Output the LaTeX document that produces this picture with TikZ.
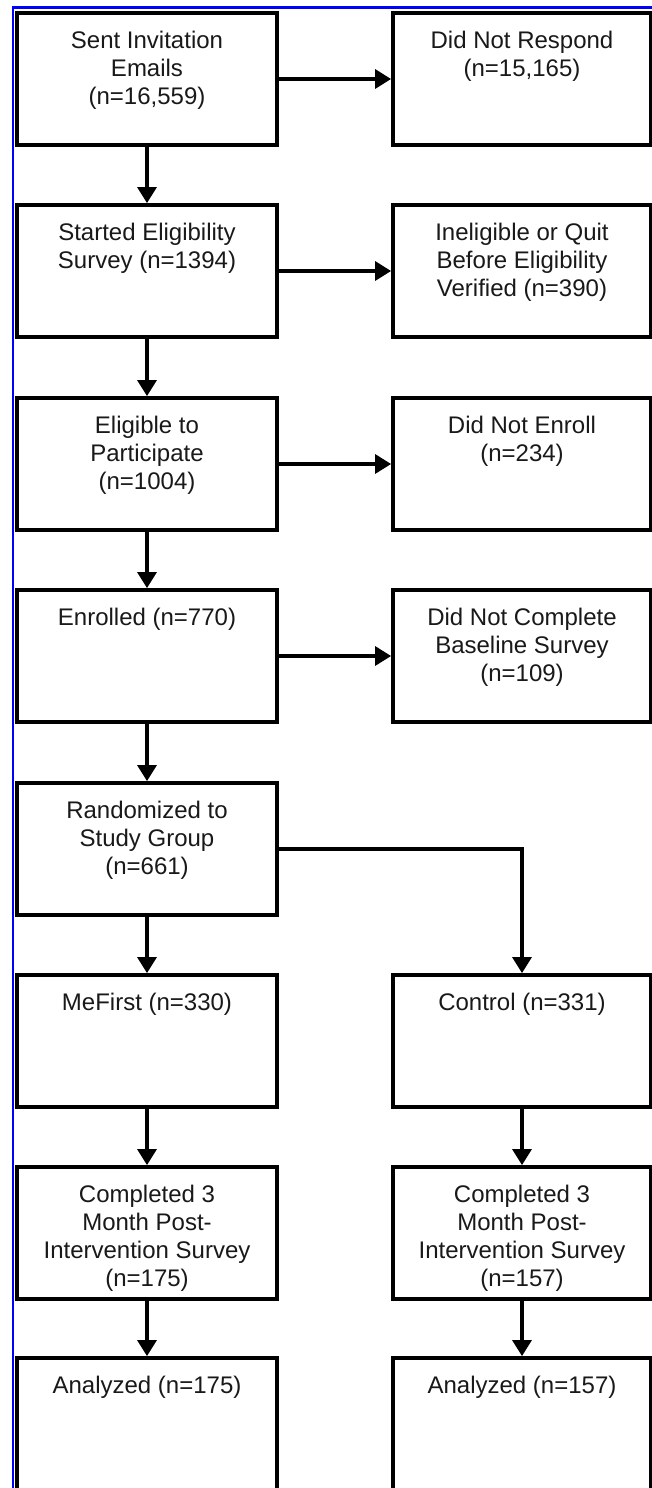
\documentclass[tikz,border=0pt]{standalone}
\usepackage{fontspec}
\setmainfont{Liberation Sans}
\usetikzlibrary{arrows.meta}
\tikzset{
  flowbox/.style={draw=black, line width=3.8pt, inner sep=0pt, minimum height=132pt},
  leftbox/.style={flowbox, minimum width=260pt},
  rightbox/.style={flowbox, minimum width=258pt},
  boxtext/.style={anchor=north, inner sep=0pt, align=center, text=black!90, font={\fontsize{24}{28}\selectfont}},
  conn/.style={line width=3.2pt, -{Triangle[length=16pt,width=19pt]}},
  plain/.style={line width=3.2pt}
}
\newcommand{\boxlabel}[3]{\node[boxtext] (#1) at ([yshift=-17.8pt]#2.north) {\strut #3};}
\begin{document}
\begin{tikzpicture}[x=1pt,y=-1pt]
\useasboundingbox (0,0) rectangle (652,1488);
\clip (0,0) rectangle (652,1488);
\fill[white] (0,0) rectangle (652,1488);
\draw[blue, line width=2.3pt] (13,1490) -- (13,7.5) -- (653,7.5);

% left column
\node[leftbox] (l1) at (147,79) {};
\node[leftbox] (l2) at (147,271) {};
\node[leftbox] (l3) at (147,464) {};
\node[leftbox] (l4) at (147,656) {};
\node[leftbox] (l5) at (147,849) {};
\node[leftbox] (l6) at (147,1041) {};
\node[leftbox] (l7) at (147,1233) {};
\node[leftbox] (l8) at (147,1424) {};
% right column
\node[rightbox] (r1) at (522,79) {};
\node[rightbox] (r2) at (522,271) {};
\node[rightbox] (r3) at (522,464) {};
\node[rightbox] (r4) at (522,656) {};
\node[rightbox] (r6) at (522,1041) {};
\node[rightbox] (r7) at (522,1233) {};
\node[rightbox] (r8) at (522,1424) {};

\boxlabel{tl1}{l1}{Sent Invitation\\Emails\\(n=16,559)}
\boxlabel{tl2}{l2}{Started Eligibility\\Survey (n=1394)}
\boxlabel{tl3}{l3}{Eligible to\\Participate\\(n=1004)}
\boxlabel{tl4}{l4}{Enrolled (n=770)}
\boxlabel{tl5}{l5}{Randomized to\\Study Group\\(n=661)}
\boxlabel{tl6}{l6}{MeFirst (n=330)}
\boxlabel{tl7}{l7}{Completed 3\\Month Post-\\Intervention Survey\\(n=175)}
\boxlabel{tl8}{l8}{Analyzed (n=175)}

\boxlabel{tr1}{r1}{Did Not Respond\\(n=15,165)}
\boxlabel{tr2}{r2}{Ineligible or Quit\\Before Eligibility\\Verified (n=390)}
\boxlabel{tr3}{r3}{Did Not Enroll\\(n=234)}
\boxlabel{tr4}{r4}{Did Not Complete\\Baseline Survey\\(n=109)}
\boxlabel{tr6}{r6}{Control (n=331)}
\boxlabel{tr7}{r7}{Completed 3\\Month Post-\\Intervention Survey\\(n=157)}
\boxlabel{tr8}{r8}{Analyzed (n=157)}

% vertical connectors
\draw[conn] (l1.south) -- (l2.north);
\draw[conn] (l2.south) -- (l3.north);
\draw[conn] (l3.south) -- (l4.north);
\draw[conn] (l4.south) -- (l5.north);
\draw[conn] (l5.south) -- (l6.north);
\draw[conn] (l6.south) -- (l7.north);
\draw[conn] (l7.south) -- (l8.north);
\draw[conn] (r6.south) -- (r7.north);
\draw[conn] (r7.south) -- (r8.north);
% horizontal connectors
\draw[conn] (l1.east) -- (r1.west);
\draw[conn] (l2.east) -- (r2.west);
\draw[conn] (l3.east) -- (r3.west);
\draw[conn] (l4.east) -- (r4.west);
\draw[conn] (l5.east) -| (r6.north);
\end{tikzpicture}
\end{document}
